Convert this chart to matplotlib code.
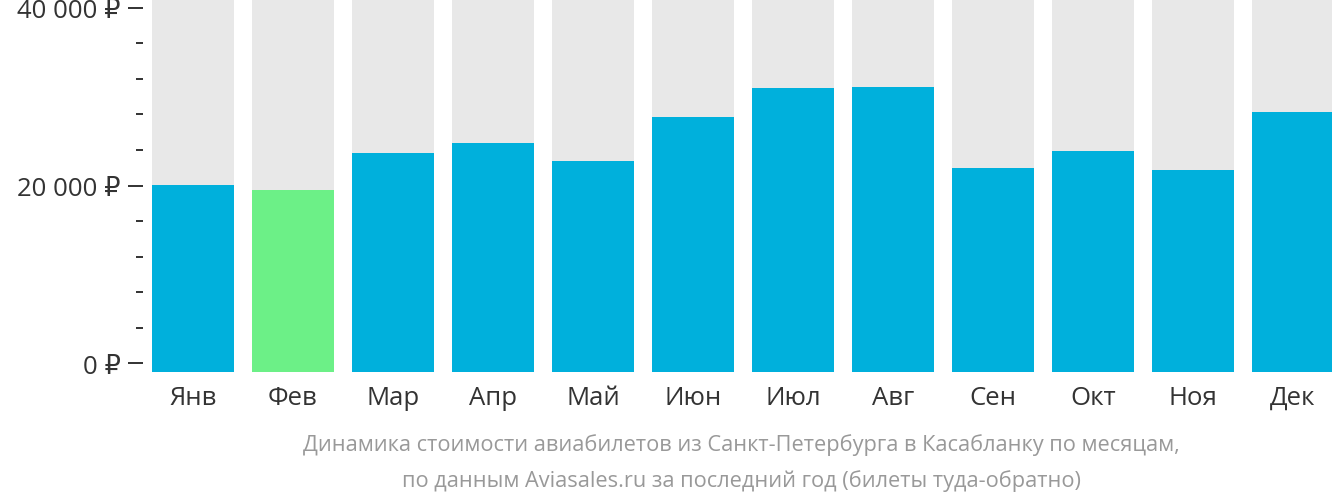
import matplotlib
matplotlib.use("Agg")
import matplotlib.pyplot as plt
from matplotlib.ticker import MultipleLocator, FuncFormatter

months = ["Янв", "Фев", "Мар", "Апр", "Май", "Июн", "Июл", "Авг", "Сен", "Окт", "Ноя", "Дек"]
prices = [20060, 19500, 23660, 24790, 22760, 27720, 30990, 31100, 21970, 23890, 21780, 28280]
cheapest_month = "Фев"
caption_lines = [
    "Динамика стоимости авиабилетов из Санкт-Петербурга в Касабланку по месяцам,",
    "по данным Aviasales.ru за последний год (билеты туда-обратно)",
]

BLUE = "#00b0dc"
GREEN = "#6cf087"
GRAY = "#e8e8e8"

plt.rcParams["font.family"] = ["Open Sans", "DejaVu Sans"]

W, H = 1332, 502
fig = plt.figure(figsize=(W / 100, H / 100), dpi=100)
ax_left, ax_right, ax_top, ax_bottom = 143, 1332, 0, 373
ax = fig.add_axes([ax_left / W, 1 - ax_bottom / H, (ax_right - ax_left) / W, (ax_bottom - ax_top) / H])

ymin, ymax = -1000, 41000
ax.set_ylim(ymin, ymax)
ax.set_xlim(-0.5, 11.39)

x = list(range(len(months)))
ax.bar(x, [ymax - ymin] * len(x), bottom=ymin, width=0.82, color=GRAY, zorder=1)
colors = [GREEN if m == cheapest_month else BLUE for m in months]
ax.bar(x, [p - ymin for p in prices], bottom=ymin, width=0.82, color=colors, zorder=2)

for s in ax.spines.values():
    s.set_visible(False)

ax.yaxis.set_major_locator(MultipleLocator(20000))
ax.yaxis.set_minor_locator(MultipleLocator(4000))
ax.yaxis.set_major_formatter(FuncFormatter(lambda v, p: f"{int(v):,}".replace(",", " ") + " ₽"))
ax.tick_params(axis="y", which="major", length=11, width=1.3, color="#222222",
               labelsize=18.5, labelcolor="#333333", pad=5)
ax.tick_params(axis="y", which="minor", length=5, width=1.3, color="#222222")
ax.set_xticks(x)
ax.set_xticklabels(months)
ax.tick_params(axis="x", length=0, labelsize=18.5, labelcolor="#333333", pad=9.5)

cx = 741 / W
fig.text(cx, 1 - 445 / H, caption_lines[0], ha="center", va="center", fontsize=15.7,
         color="#999999")
fig.text(cx, 1 - 481 / H, caption_lines[1], ha="center", va="center", fontsize=15.7,
         color="#999999")

fig.savefig("out.png", dpi=100, facecolor="white")
